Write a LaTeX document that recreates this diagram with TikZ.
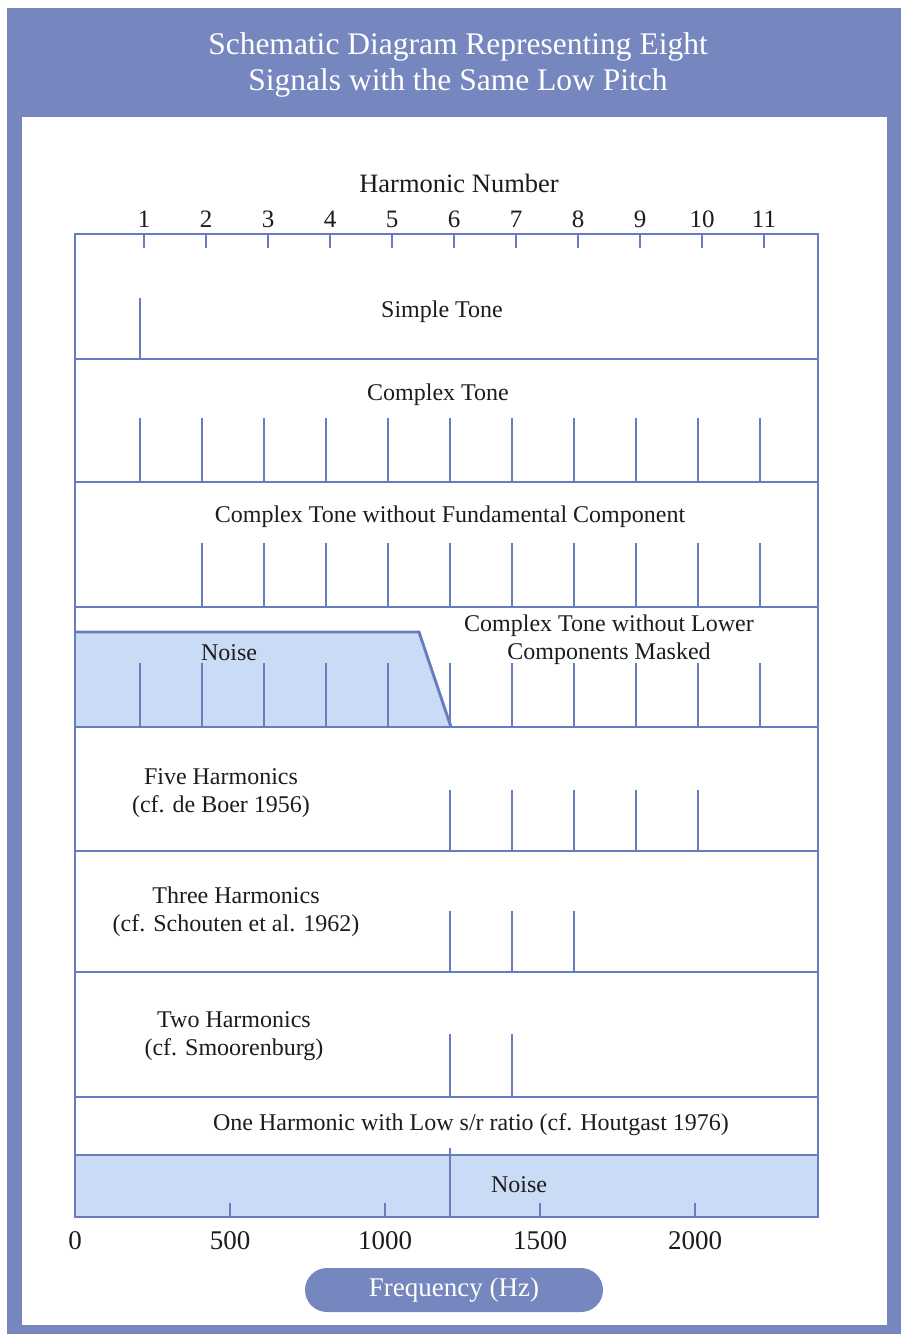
\documentclass[tikz,border=0pt]{standalone}
\usepackage{fontspec}
\setmainfont{Liberation Serif}
\usetikzlibrary{positioning}

\definecolor{frameblue}{RGB}{117,135,190}
\definecolor{lineblue}{RGB}{104,124,192}
\definecolor{noisefill}{RGB}{202,219,245}
\definecolor{labeltext}{RGB}{28,28,28}

\begin{document}
\begin{tikzpicture}[
    x=1pt, y=-1pt,
    grid/.style={draw=lineblue, line width=2.9pt},
    harm/.style={draw=lineblue, line width=2.9pt},
    lbl/.style={font=\fontsize{24}{28}\selectfont, text=labeltext, align=center, inner sep=0pt},
    num/.style={font=\fontsize{25}{28}\selectfont, text=labeltext, inner sep=0pt},
    ttl/.style={font=\fontsize{31.5}{36}\selectfont, text=white, align=center, inner sep=0pt},
    pill/.style={fill=frameblue, rounded corners=22pt, minimum width=298pt, minimum height=44pt,
                 text=white, font=\fontsize{27}{28}\selectfont}
  ]
    \useasboundingbox (0,0) rectangle (901,1334);
    % page frame
    \fill[frameblue] (7,8) rectangle (901,1334);
    \fill[white] (22,117) rectangle (887,1325);
    \node[ttl] (title) at (458,65) {Schematic Diagram Representing Eight\\Signals with the Same Low Pitch};

    % noise areas
    \fill[noisefill] (75,632) -- (419,632) -- (451,727) -- (75,727) -- cycle;
    \draw[harm] (75,632) -- (419,632) -- (451,727);
    \fill[noisefill] (75,1155) rectangle (818,1217);

    % chart frame and rows
    \draw[grid] (75,234) rectangle (818,1217);
    \foreach \y in {359,482,607,727,851,972,1097,1155}
      \draw[grid] (75,\y) -- (818,\y);

    % harmonic number scale
    \node[lbl, font=\fontsize{26.5}{28}\selectfont] (hnum) at (459,183) {Harmonic Number};
    \foreach \n in {1,...,11} {
      \draw[harm] (82+62*\n,234) -- (82+62*\n,248);
      \node[num] (h\n) at (82+62*\n,219) {\n};
    }

    % spectra
    \draw[harm] (140,298) -- (140,359);
    \foreach \n in {1,...,11}
      \draw[harm] (78+62*\n,418) -- (78+62*\n,482);
    \foreach \n in {2,...,11}
      \draw[harm] (78+62*\n,543) -- (78+62*\n,607);
    \foreach \n in {1,...,11}
      \draw[harm] (78+62*\n,663) -- (78+62*\n,727);
    \foreach \n in {6,...,10}
      \draw[harm] (78+62*\n,790) -- (78+62*\n,851);
    \foreach \n in {6,7,8}
      \draw[harm] (78+62*\n,911) -- (78+62*\n,972);
    \foreach \n in {6,7}
      \draw[harm] (78+62*\n,1034) -- (78+62*\n,1097);
    \draw[harm] (450,1148) -- (450,1217);

    % row labels
    \node[lbl] (simple) at (442,312) {Simple Tone};
    \node[lbl] (complex) at (438,395) {Complex Tone};
    \node[lbl] (nofund) at (450,517) {Complex Tone without Fundamental Component};
    \node[lbl] (noiseA) at (229,653) {Noise};
    \node[lbl] (masked) at (609,640) {Complex Tone without Lower\\Components Masked};
    \node[lbl] (five) at (221,793) {Five Harmonics\\(cf. de Boer 1956)};
    \node[lbl] (three) at (236,912) {Three Harmonics\\(cf. Schouten et al. 1962)};
    \node[lbl] (two) at (234,1036) {Two Harmonics\\(cf. Smoorenburg)};
    \node[lbl] (one) at (471,1125) {One Harmonic with Low s/r ratio (cf. Houtgast 1976)};
    \node[lbl] (noiseB) at (519,1185) {Noise};

    % frequency scale
    \foreach \f in {500,1000,1500,2000}
      \draw[harm] (75+0.31*\f,1203) -- (75+0.31*\f,1217);
    \foreach \f in {0,500,1000,1500,2000}
      \node[num, font=\fontsize{27}{28}\selectfont] (f\f) at (75+0.31*\f,1241) {\f};
    \node[pill] (freq) at (454,1290) {Frequency (Hz)};
  \end{tikzpicture}
\end{document}
